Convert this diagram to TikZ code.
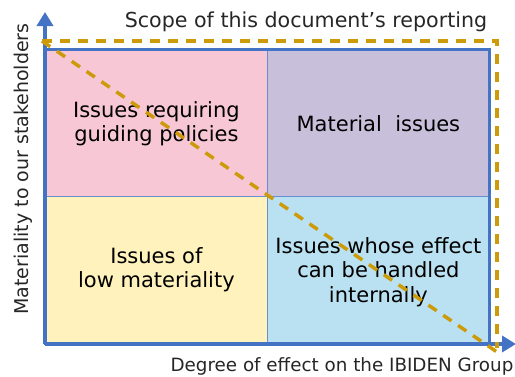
\documentclass[tikz,border=0pt]{standalone}
\usepackage{fontspec}
\setmainfont{DejaVu Sans}
\usetikzlibrary{arrows.meta}
\definecolor{qpink}{RGB}{247,199,214}
\definecolor{qpurple}{RGB}{200,192,218}
\definecolor{qyellow}{RGB}{255,242,188}
\definecolor{qblue}{RGB}{186,225,241}
\definecolor{axblue}{RGB}{68,114,196}
\definecolor{gold}{RGB}{205,155,10}
\begin{document}
\begin{tikzpicture}[x=1pt,y=-1pt,
  quad/.style={draw=axblue!80, line width=0.8pt, minimum width=222pt, minimum height=147pt, anchor=north west, inner sep=0pt},
  qlabel/.style={font=\fontsize{21}{24.5}\selectfont, align=center, text=black},
  axis/.style={axblue, line width=3.5pt, -{Triangle[length=14pt,width=16pt]}},
  scope/.style={gold, line width=3.5pt, dash pattern=on 10pt off 8pt},
  axlabel/.style={font=\fontsize{18.3}{21}\selectfont, text=black!85}]
\useasboundingbox (0,0) rectangle (515,376);
% quadrants
\node[quad, fill=qpink] (tl) at (45,49) {};
\node[quad, fill=qpurple] (tr) at (267,49) {};
\node[quad, fill=qyellow] (bl) at (45,196) {};
\node[quad, fill=qblue] (br) at (267,196) {};
\draw[axblue, line width=3pt] (tl.north west) rectangle (br.south east);
% labels
\node[qlabel] (l1) at ([yshift=-1pt]tl.center) {Issues requiring\\guiding policies};
\node[qlabel] (l2) at ([yshift=-1pt]tr.center) {Material\ \ issues};
\node[qlabel] (l3) at ([yshift=0pt]bl.center) {Issues of\\low materiality};
\node[qlabel] (l4) at ([yshift=-2pt]br.center) {Issues whose effect\\can be handled\\internally};
% axes
\coordinate (origin) at (45,344);
\coordinate (ytip) at (45,12);
\coordinate (xtip) at (516,344);
\draw[axis] (origin) -- (ytip);
\draw[axis] (origin) -- (xtip);
% scope of reporting
\coordinate (s1) at (42,41);
\coordinate (s2) at (497,41);
\coordinate (s3) at (497,348);
\coordinate (s4) at (497,352);
\draw[scope] (s1) -- (s2) -- (s3);
\draw[scope] (s1) -- (s4);
% axis labels
\node[axlabel, font=\fontsize{20.6}{24}\selectfont] (title) at (306,22) {Scope of this document’s reporting};
\node[axlabel] (xl) at (342,366) {Degree of effect on the IBIDEN Group};
\node[axlabel, font=\fontsize{19}{22}\selectfont, rotate=90] (yl) at (23,169) {Materiality to our stakeholders};
\end{tikzpicture}
\end{document}
